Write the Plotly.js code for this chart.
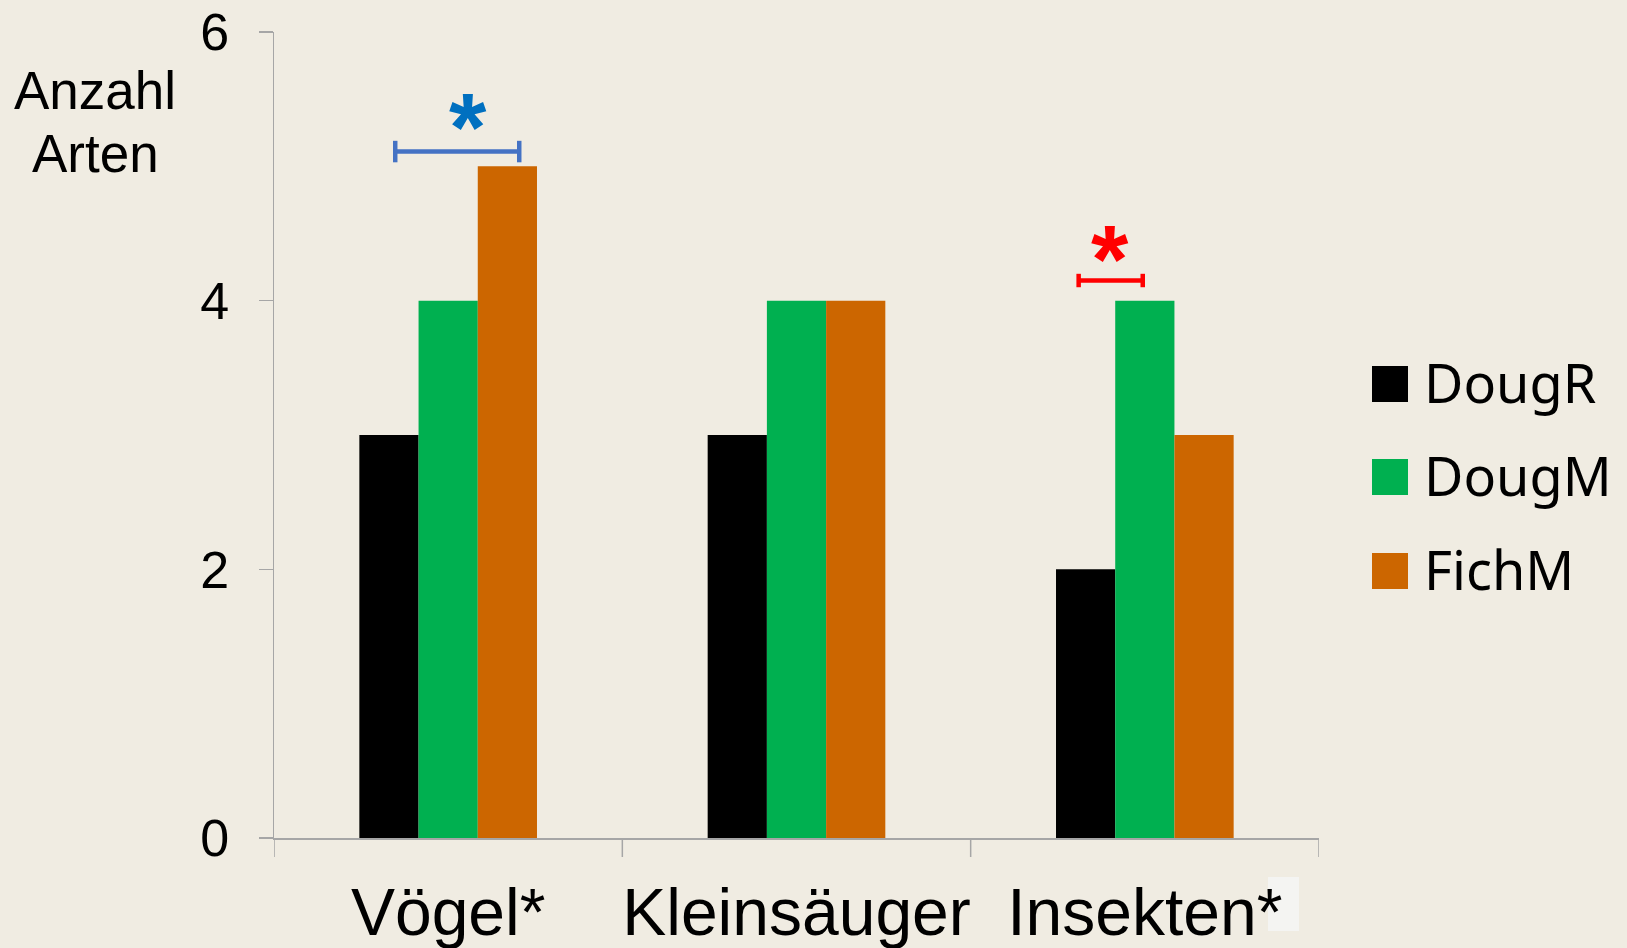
<!DOCTYPE html>
<html>
<head>
<meta charset="utf-8">
<script src="https://cdn.plot.ly/plotly-3.0.1.min.js"></script>
<style>
html,body{margin:0;padding:0;background:#F0ECE2;}
#chart{width:1627px;height:948px;}
</style>
</head>
<body>
<div id="chart"></div>
<script>
// ---- data ----
const categories = ['Vögel*', 'Kleinsäuger', 'Insekten*'];
const seriesNames = ['DougR', 'DougM', 'FichM'];
const dougR = [3, 3, 2];
const dougM = [4, 4, 4];
const fichM = [5, 4, 3];
const yTicks = [0, 2, 4, 6];
const yTitleLines = ['Anzahl', 'Arten'];

const colors = ['#000000', '#00B050', '#CC6600'];
const seriesValues = [dougR, dougM, fichM];

const W = 1627, H = 948;
const M = {l: 274, r: 308, t: 32, b: 110};
const PW = W - M.l - M.r, PH = H - M.t - M.b;
const px = x => (x - M.l) / PW;
const py = y => (H - M.b - y) / PH;

const traces = seriesNames.map((n, i) => ({
  type: 'bar',
  name: n,
  x: categories.map((c, k) => k),
  y: seriesValues[i],
  marker: {color: colors[i], line: {width: 0}},
  showlegend: false,
  hoverinfo: 'skip'
}));

const shapes = [];
const annotations = [];

// significance brackets
function bracket(x0, x1, y, color, cap) {
  shapes.push({type: 'line', xref: 'x', yref: 'y', x0: x0, x1: x1, y0: y, y1: y,
    line: {color: color, width: 4.5}});
  [x0, x1].forEach(xx => shapes.push({type: 'line', xref: 'x', yref: 'y', x0: xx, x1: xx,
    y0: y - cap, y1: y + cap, line: {color: color, width: 4.5}}));
}
bracket(0 - 0.152, 0 + 0.204, 5.11, '#4472C4', 0.08);
bracket(2 - 0.19, 2 - 0.006, 4.15, '#FF0000', 0.05);

annotations.push({xref: 'x', yref: 'y', x: 0 + 0.057, y: 5.11, yshift: -30, yanchor: 'bottom',
  text: '<b>*</b>', showarrow: false, font: {family: 'Liberation Sans, Arial', size: 96, color: '#0070C0'}});
annotations.push({xref: 'x', yref: 'y', x: 2 - 0.1, y: 4.15, yshift: -33, yanchor: 'bottom',
  text: '<b>*</b>', showarrow: false, font: {family: 'Liberation Sans, Arial', size: 96, color: '#FF0000'}});

// y-axis title (two lines)
const titleRows = [91, 153];
yTitleLines.forEach((t, i) => annotations.push({xref: 'paper', yref: 'paper', x: px(95), y: py(titleRows[i]),
  xanchor: 'center', yanchor: 'middle', text: t, showarrow: false,
  font: {family: 'Liberation Sans, Arial', size: 53, color: '#000000'}}));

// custom legend
const legendRows = [384, 477, 571];
seriesNames.forEach((n, i) => {
  shapes.push({type: 'rect', xref: 'paper', yref: 'paper', x0: px(1372), x1: px(1408),
    y0: py(legendRows[i] + 18), y1: py(legendRows[i] - 18), fillcolor: colors[i], line: {width: 0}});
  annotations.push({xref: 'paper', yref: 'paper', x: px(1422), y: py(legendRows[i] - 2), xanchor: 'left', yanchor: 'middle',
    text: n, showarrow: false, font: {family: 'Noto Sans, Open Sans', size: 54, color: '#000000'}});
});

// light patch next to last category label
shapes.push({type: 'rect', xref: 'paper', yref: 'paper', x0: px(1268), x1: px(1299), y0: py(931), y1: py(877),
  fillcolor: '#F4F4F2', line: {width: 0}, layer: 'below'});

// x-axis boundary ticks
[-0.5, 0.5, 1.5, 2.5].forEach(b => shapes.push({type: 'line', xref: 'x', yref: 'paper', x0: b, x1: b,
  y0: 0, y1: py(857), line: {color: '#A6A6A6', width: 1.5}}));

const layout = {
  width: W, height: H,
  margin: M,
  paper_bgcolor: '#F0ECE2',
  plot_bgcolor: '#F0ECE2',
  barmode: 'group',
  bargap: 0.49,
  bargroupgap: 0,
  showlegend: false,
  xaxis: {
    type: 'linear',
    range: [-0.5, 2.5],
    tickmode: 'array',
    tickvals: categories.map((c, k) => k),
    ticktext: categories,
    ticks: '',
    showline: true, linecolor: '#A6A6A6', linewidth: 1.5,
    showgrid: false, zeroline: false,
    tickfont: {family: 'Liberation Sans, Arial', size: 66, color: '#000000'},
    ticklabelstandoff: 16
  },
  yaxis: {
    range: [0, 6],
    tickmode: 'array',
    tickvals: yTicks,
    ticks: 'outside', ticklen: 14, tickwidth: 1.5, tickcolor: '#A6A6A6',
    showline: true, linecolor: '#A6A6A6', linewidth: 1.5,
    showgrid: false, zeroline: false,
    tickfont: {family: 'Liberation Sans, Arial', size: 52, color: '#000000'},
    ticklabelstandoff: 19
  },
  shapes: shapes,
  annotations: annotations
};

Plotly.newPlot('chart', traces, layout, {staticPlot: true});
</script>
</body>
</html>
